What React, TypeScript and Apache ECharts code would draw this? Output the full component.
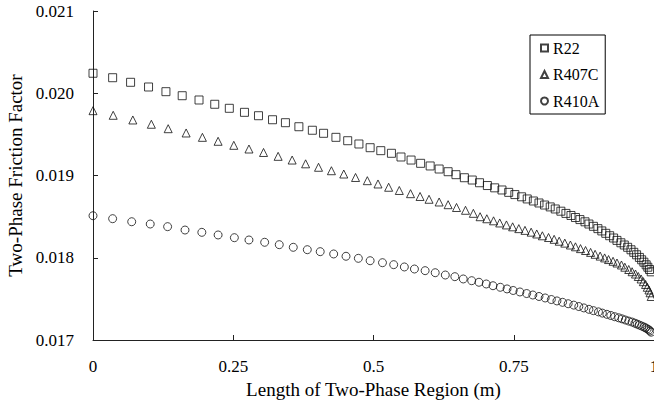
import React, { useEffect, useRef } from "react";
import * as echarts from "echarts";

const seriesNames = ["R22", "R407C", "R410A"];
const xTicks = [0, 0.25, 0.5, 0.75, 1];
const yTicks = [0.017, 0.018, 0.019, 0.02, 0.021];

const xR22 = [
  0, 0.035, 0.067, 0.099, 0.13, 0.159, 0.189, 0.217, 0.243, 0.27,
  0.295, 0.32, 0.343, 0.367, 0.391, 0.411, 0.433, 0.454, 0.474, 0.494,
  0.513, 0.532, 0.549, 0.567, 0.584, 0.601, 0.617, 0.633, 0.647, 0.662,
  0.676, 0.689,
  0.703, 0.716, 0.729, 0.741, 0.752, 0.764, 0.774, 0.785, 0.795, 0.805,
  0.815, 0.824, 0.834, 0.843, 0.852, 0.86, 0.868, 0.877, 0.884, 0.892,
  0.9, 0.907, 0.914, 0.921, 0.928, 0.934, 0.941, 0.947, 0.953, 0.959,
  0.964, 0.969, 0.974, 0.978, 0.982, 0.986, 0.989, 0.992, 0.995,
];
const yR22 = [
  0.020243, 0.020189, 0.020133, 0.020076, 0.020019, 0.01997, 0.019918, 0.019866, 0.019817, 0.019768,
  0.019727, 0.019678, 0.019642, 0.019593, 0.01955, 0.019513, 0.019464, 0.019423, 0.019383, 0.019338,
  0.019302, 0.01927, 0.019225, 0.019188, 0.019148, 0.019116, 0.019079, 0.019046, 0.01901, 0.018973,
  0.018945, 0.018912,
  0.018878, 0.01885, 0.018824, 0.018795, 0.018768, 0.018741, 0.018715, 0.01869, 0.018666, 0.018641,
  0.018618, 0.018593, 0.018566, 0.018539, 0.018514, 0.018489, 0.018464, 0.018437, 0.01841, 0.018382,
  0.018354, 0.018326, 0.018297, 0.018268, 0.01824, 0.018211, 0.018182, 0.018155, 0.018127, 0.018097,
  0.018066, 0.018036, 0.018004, 0.017975, 0.017946, 0.017914, 0.017885, 0.017857, 0.017829,
];

const xR407C = [
  0, 0.036, 0.071, 0.104, 0.134, 0.166, 0.195, 0.223, 0.251, 0.278,
  0.304, 0.33, 0.355, 0.379, 0.402, 0.425, 0.447, 0.468, 0.489, 0.508,
  0.527, 0.546, 0.566, 0.583, 0.599, 0.617, 0.633, 0.648, 0.664, 0.678,
  0.69,
  0.702, 0.714, 0.725, 0.737, 0.748, 0.759, 0.77, 0.781, 0.791, 0.801,
  0.812, 0.822, 0.831, 0.841, 0.851, 0.86, 0.869, 0.878, 0.887, 0.895,
  0.904, 0.912, 0.919, 0.927, 0.934, 0.942, 0.948, 0.955, 0.961, 0.967,
  0.972, 0.977, 0.981, 0.985, 0.988, 0.991, 0.993, 0.995,
];
const yR407C = [
  0.019788, 0.019732, 0.019675, 0.019623, 0.019569, 0.019517, 0.019464, 0.019416, 0.019367, 0.019322,
  0.01928, 0.019233, 0.019188, 0.019142, 0.0191, 0.019058, 0.019018, 0.018976, 0.018937, 0.018897,
  0.018857, 0.018818, 0.018779, 0.018745, 0.018711, 0.018678, 0.018645, 0.018611, 0.018577, 0.01854,
  0.018499,
  0.018474, 0.018449, 0.018423, 0.018399, 0.018376, 0.018354, 0.018333, 0.018311, 0.018289, 0.018267,
  0.018246, 0.018224, 0.018201, 0.018178, 0.018155, 0.018133, 0.018111, 0.018088, 0.018065, 0.018042,
  0.01802, 0.017998, 0.017978, 0.017957, 0.017936, 0.017912, 0.017885, 0.017857, 0.01783, 0.017802,
  0.017772, 0.017742, 0.017709, 0.017675, 0.017641, 0.017608, 0.017574, 0.017529,
];

const xR410A = [
  0, 0.035, 0.069, 0.102, 0.133, 0.164, 0.194, 0.223, 0.252, 0.278,
  0.306, 0.332, 0.357, 0.382, 0.405, 0.429, 0.451, 0.473, 0.494, 0.516,
  0.536, 0.555, 0.573, 0.592, 0.61, 0.628, 0.645, 0.66, 0.675, 0.688,
  0.701, 0.713, 0.726, 0.738, 0.749, 0.761, 0.773, 0.784, 0.795, 0.806,
  0.817, 0.827, 0.837, 0.847, 0.857, 0.866, 0.875, 0.884, 0.892, 0.901,
  0.908, 0.916, 0.923, 0.93, 0.937, 0.943, 0.949, 0.955, 0.961, 0.966,
  0.97, 0.974, 0.978, 0.982, 0.985, 0.988, 0.991, 0.993, 0.995,
];
const yR410A = [
  0.018511, 0.018475, 0.018438, 0.01841, 0.018378, 0.018337, 0.018309, 0.018277, 0.018244, 0.018216,
  0.018188, 0.018159, 0.018127, 0.018098, 0.018074, 0.018046, 0.018018, 0.017993, 0.017964, 0.01794,
  0.017916, 0.017888, 0.017863, 0.017843, 0.017818, 0.01779, 0.01777, 0.017742, 0.017721, 0.017702,
  0.017681, 0.01766, 0.017641, 0.017621, 0.017602, 0.017584, 0.017565, 0.017547, 0.017529, 0.017511,
  0.017492, 0.017475, 0.017458, 0.017441, 0.017424, 0.017407, 0.01739, 0.017373, 0.017357, 0.017342,
  0.017327, 0.017312, 0.017298, 0.017283, 0.01727, 0.017257, 0.017243, 0.01723, 0.017218, 0.017204,
  0.017193, 0.017181, 0.01717, 0.017158, 0.017147, 0.017135, 0.017123, 0.017109, 0.017095,
];

const FONT = "'Liberation Serif', 'Times New Roman', Times, serif";

function pairs(xs: number[], ys: number[]) {
  return xs.map((x, i) => [x, ys[i]]);
}

export default function App() {
  const ref = useRef<HTMLDivElement>(null);
  useEffect(() => {
    if (!ref.current) return;
    const chart = echarts.init(ref.current, null, { renderer: "svg" });
    const marker = {
      color: "rgba(255,255,255,0)",
      borderColor: "#111",
      borderWidth: 1,
    };
    const symbols = ["rect", "triangle", "circle"];
    const datas = [pairs(xR22, yR22), pairs(xR407C, yR407C), pairs(xR410A, yR410A)];
    chart.setOption({
      animation: false,
      backgroundColor: "#fff",
      grid: { left: 93, right: 0, top: 11, bottom: 66, containLabel: false, outerBoundsMode: "none" },
      legend: {
        orient: "vertical",
        left: 530,
        top: 35,
        padding: [5, 6, 5, 10],
        borderColor: "#000",
        borderWidth: 1,
        itemWidth: 7,
        itemHeight: 7,
        itemGap: 10.5,
        data: seriesNames,
        textStyle: { fontFamily: FONT, fontSize: 16, color: "#000" },
      },
      xAxis: {
        type: "value",
        min: xTicks[0],
        max: xTicks[xTicks.length - 1],
        interval: 0.25,
        name: "Length of Two-Phase Region (m)",
        nameLocation: "middle",
        nameGap: 38,
        nameTextStyle: { fontFamily: FONT, fontSize: 19, color: "#000" },
        axisLine: { lineStyle: { color: "#222", width: 1 } },
        axisTick: { inside: true, length: 5, lineStyle: { color: "#222" } },
        axisLabel: { fontFamily: FONT, fontSize: 17, color: "#000", margin: 18 },
        splitLine: { show: false },
      },
      yAxis: {
        type: "value",
        min: yTicks[0],
        max: yTicks[yTicks.length - 1],
        interval: 0.001,
        name: "Two-Phase Friction Factor",
        nameLocation: "middle",
        nameGap: 65,
        nameTextStyle: { fontFamily: FONT, fontSize: 19, color: "#000" },
        axisLine: { show: true, lineStyle: { color: "#222", width: 1 } },
        axisTick: { show: true, inside: true, length: 5, lineStyle: { color: "#222" } },
        axisLabel: {
          fontFamily: FONT,
          fontSize: 17,
          color: "#000",
          margin: 19,
          formatter: (v: number) => v.toFixed(3),
        },
        splitLine: { show: false },
      },
      series: seriesNames.map((name, i) => ({
        name,
        type: "scatter",
        symbol: symbols[i],
        symbolSize: 8,
        clip: false,
        itemStyle: marker,
        data: datas[i],
      })),
    });
    return () => chart.dispose();
  }, []);
  return (
    <div
      ref={ref}
      style={{ position: "fixed", left: 0, top: 0, width: 654, height: 406, background: "#fff" }}
    />
  );
}
